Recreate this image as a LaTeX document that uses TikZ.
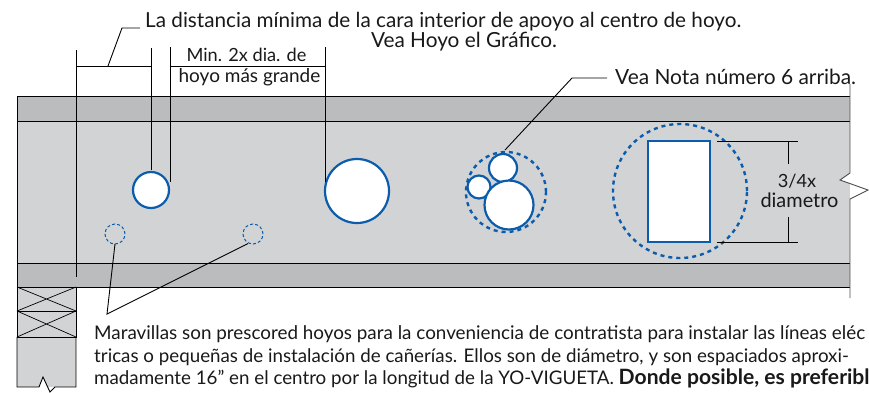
\documentclass[tikz,border=0pt]{standalone}
\usepackage{fontspec}
\usetikzlibrary{calc}
\setmainfont{Lato}
\definecolor{flange}{HTML}{BBBCBE}
\definecolor{web}{HTML}{D1D3D4}
\definecolor{holeblue}{HTML}{0B5CAD}
\tikzset{
 x=1pt,y=-1pt,
 ln/.style={black,line width=0.9pt},
 thinln/.style={black,line width=0.7pt},
 hole/.style={draw=holeblue,fill=white,line width=2.2pt,circle,inner sep=0pt},
 ko/.style={draw=holeblue,line width=1pt,dash pattern=on 3pt off 2.2pt,circle,inner sep=0pt},
 zone/.style={draw=holeblue,line width=2.4pt,dash pattern=on 4pt off 4pt,circle,inner sep=0pt},
 lab/.style={font=\fontsize{#1pt}{20pt}\selectfont,inner sep=0pt,text=black!90,anchor=base},
 para/.style={font=\fontsize{#1pt}{20pt}\selectfont,inner sep=0pt,anchor=base west,text=black!90},
}
\begin{document}
\begin{tikzpicture}
\useasboundingbox (0,0) rectangle (869,392);
% joist
\fill[web] (17,96) rectangle (850,287);
\fill[flange] (17,96) rectangle (850,121);
\fill[flange] (17,263) rectangle (850,287);
\draw[ln] (17,96) -- (850,96);
\draw[ln] (17,121) -- (850,121);
\draw[ln] (17,263) -- (850,263);
\draw[ln] (17,287) -- (850,287);
\draw[ln] (17,96) -- (17,287);
% support
\fill[web] (17,287) rectangle (76,387);
\fill[white] (39,387) -- (43,377) -- (50,392) -- (55,387) -- cycle;
\draw[ln] (17,287) rectangle (76,311);
\draw[ln] (17,311) rectangle (76,337);
\draw[thinln] (17,287) -- (76,311) (17,311) -- (76,287);
\draw[thinln] (17,311) -- (76,337) (17,337) -- (76,311);
\draw[ln] (17,337) -- (17,387) -- (39,387) -- (43,377) -- (50,392) -- (55,387) -- (76,387) -- (76,337);
% right break
\fill[white] (850.4,173) -- (840,180) -- (868,190) -- (850.4,199) -- cycle;
\draw[ln,black!70] (850,84) -- (850,173) -- (840,180) -- (868,190) -- (850,199) -- (850,298);
% holes
\node[hole,minimum size=36pt] (h1) at (151,190) {};
\node[hole,minimum size=64pt] (h2) at (357,191) {};
\node[ko,minimum size=20pt] (k1) at (115,234) {};
\node[ko,minimum size=20pt] (k2) at (253,234) {};
\node[zone,minimum size=80pt] (z1) at (506,192) {};
\node[hole,minimum size=28pt] (c1) at (503,168) {};
\node[hole,minimum size=23pt] (c2) at (479,187) {};
\node[hole,minimum size=49pt] (c3) at (509,205) {};
\node[zone,minimum size=134pt] (z2) at (680,191) {};
\node[draw=holeblue,fill=white,line width=2.2pt,minimum width=62pt,minimum height=101pt,inner sep=0pt] (r) at (679,191.5) {};
% dimension lines
\coordinate (a1) at (76,50); \coordinate (a2) at (76,277);
\coordinate (b1) at (151,48); \coordinate (b2) at (151,170);
\coordinate (c1t) at (170,47); \coordinate (c2b) at (170,182);
\coordinate (d1) at (325,47); \coordinate (d2) at (325,182);
\draw[ln] (a1) -- (a2);
\draw[ln] (b1) -- (b2);
\draw[ln] (c1t) -- (c2b);
\draw[ln] (d1) -- (d2);
\draw[ln] (77,66) -- (151,66);
\draw[ln] (171,66) -- (326,66);
\coordinate (e) at (108,66);
\draw[ln] (e) -- (122,28) -- (140,28);
% texts
\node[lab=20.7,anchor=base west] (t1) at (145,27) {La distancia mínima de la cara interior de apoyo al centro de hoyo.};
\node[lab=20.8] (t2) at (464,47) {Vea Hoyo el Gráfico.};
\node[lab=18.2] (t3) at (246.5,61.5) {Min. 2x dia. de};
\node[lab=19] (t4) at (249.5,82) {hoyo más grande};
\node[lab=20.9,anchor=base west] (t5) at (615,84) {Vea Nota número 6 arriba.};
\coordinate (n1) at (607,78);
\coordinate (n2) at (505,150);
\draw[ln] (n1) -- (572,78) -- (n2);
% 3/4x
\draw[ln] (717,141) -- (798,141);
\draw[ln] (788,141) -- (788,164);
\draw[ln] (717,242) -- (798,242);
\draw[ln] (788,217) -- (788,242);
\node[lab=18.2] (t6) at (797,187) {3/4x};
\node[lab=19.9] (t7) at (799.5,207) {diametro};
% knock-out leaders
\coordinate (m) at (107,314);
\draw[ln] ($(k1)+(0,10)$) -- (m) -- ($(k2)+(-5,9.5)$);
% paragraph
\node[para=18.85] (p1) at (94,339) {Maravillas son prescored hoyos para la conveniencia de contratista para instalar las líneas eléc};
\node[para=18.75] (p2) at (94,362) {tricas o pequeñas de instalación de cañerías. Ellos son de diámetro, y son espaciados aproxi-};
\node[para=18.75] (p3) at (94,384) {madamente 16" en el centro por la longitud de la YO-VIGUETA. {\fontsize{21.1pt}{20pt}\selectfont\bfseries Donde posible, es preferibl}};
\end{tikzpicture}
\end{document}
